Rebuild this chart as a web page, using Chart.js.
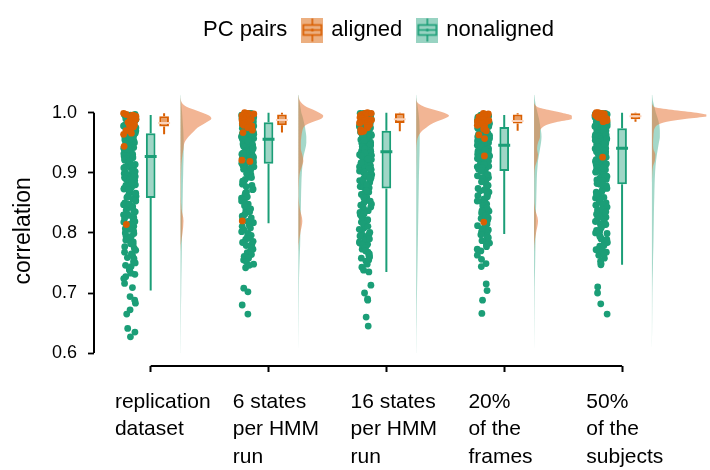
<!DOCTYPE html>
<html>
<head>
<meta charset="utf-8">
<script src="https://cdn.jsdelivr.net/npm/chart.js@4.4.1/dist/chart.umd.min.js"></script>
<style>
  html, body { margin: 0; padding: 0; background: #fff; }
  #wrap { width: 710px; height: 470px; }
</style>
</head>
<body>
<div id="wrap"><canvas id="chart"></canvas></div>
<script>
'use strict';

// categories (multi-line tick labels)
var categories = [
    ['replication', 'dataset'],
    ['6 states', 'per HMM', 'run'],
    ['16 states', 'per HMM', 'run'],
    ['20%', 'of the', 'frames'],
    ['50%', 'of the', 'subjects']
];
var yTicks = [0.6, 0.7, 0.8, 0.9, 1.0];

// box plot stats
var nonLo  = [0.704, 0.816, 0.735, 0.798, 0.747];
var nonQ1  = [0.858, 0.915, 0.874, 0.903, 0.881];
var nonMed = [0.927, 0.956, 0.935, 0.946, 0.941];
var nonQ3  = [0.966, 0.984, 0.970, 0.976, 0.974];
var nonHi  = [0.996, 1.000, 1.000, 0.996, 1.000];
var aliLo  = [0.964, 0.967, 0.969, 0.970, 0.985];
var aliQ1  = [0.977, 0.979, 0.983, 0.982, 0.989];
var aliMed = [0.983, 0.988, 0.989, 0.986, 0.994];
var aliQ3  = [0.994, 0.997, 0.999, 0.997, 0.999];
var aliHi  = [0.999, 1.000, 1.000, 0.999, 1.000];

// nonaligned PC pair correlations, one list per category
var nonaligned0 = [.997,.997,.996,.996,.995,.994,.994,.993,.992,.992,.991,.990,.989,.989,.988,.987,.986,.985,.985,.984,.983,.982,.981,.980,.980,.979,.978,.977,.976,.975,.974,.974,.973,.972,.971,.970,.969,.968,.967,.966,
    .966,.965,.963,.963,.961,.960,.958,.958,.957,.955,.954,.954,.952,.951,.950,.949,.947,.947,.946,.944,.943,.942,.941,.940,.938,.938,.937,.936,.935,.934,.933,.933,.932,.931,.930,.929,.929,.928,.928,.927,
    .926,.924,.923,.921,.920,.918,.917,.915,.914,.912,.910,.909,.907,.906,.904,.902,.901,.899,.897,.896,.894,.892,.890,.889,.887,.885,.883,.882,.880,.878,.876,.874,.873,.871,.869,.867,.865,.863,.861,.859,
    .856,.853,.850,.847,.844,.841,.838,.835,.832,.829,.826,.822,.818,.815,.811,.807,.803,.799,.795,.790,.785,.780,.774,.768,.762,.757,.750,.744,.738,.731,.724,.716,.709,.694,.688,.683,.672,.665,.641,.635,.627,
    .962,.956,.948,.939,.931,.925,.919,.913,.908,.903,.898,.893,.888,.884,.879,.872,.866,.860,.854,.848,.842,.836,.830,.824,.819,.813,.806,.800,.794,.788,.782,.777,.771,.765,.759,.752,.746,.739,.733,.727];
var nonaligned1 = [.999,.999,.998,.998,.998,.997,.997,.997,.996,.996,.995,.995,.995,.994,.994,.993,.993,.993,.992,.992,.991,.991,.991,.990,.990,.989,.989,.989,.988,.988,.987,.987,.986,.986,.986,.985,.985,.984,.984,.984,
    .983,.983,.982,.981,.981,.980,.979,.979,.978,.977,.976,.976,.975,.974,.973,.973,.972,.971,.970,.970,.969,.968,.967,.967,.966,.965,.964,.964,.963,.962,.961,.961,.960,.959,.959,.958,.958,.957,.957,.956,
    .955,.954,.952,.952,.950,.949,.948,.946,.946,.944,.943,.942,.941,.939,.939,.937,.936,.935,.934,.932,.931,.931,.929,.928,.927,.925,.925,.924,.922,.921,.920,.919,.919,.918,.917,.917,.916,.916,.915,.915,
    .913,.910,.907,.904,.901,.897,.893,.889,.885,.881,.877,.872,.868,.863,.858,.853,.848,.843,.838,.833,.828,.822,.817,.811,.805,.799,.794,.789,.784,.779,.773,.767,.761,.755,.748,.742,.708,.702,.680,.665,
    .980,.972,.965,.958,.953,.947,.940,.933,.926,.920,.912,.906,.899,.892,.886,.879,.873,.866,.860,.855,.850,.845,.840,.835,.830,.825,.819,.813,.808,.802,.796,.791,.786,.781,.776,.770,.764,.758,.752,.746];
var nonaligned2 = [.999,.999,.998,.998,.997,.996,.996,.995,.994,.994,.993,.992,.991,.991,.990,.989,.988,.988,.987,.986,.985,.984,.984,.983,.982,.981,.980,.980,.979,.978,.977,.976,.976,.975,.974,.973,.972,.972,.971,.970,
    .969,.968,.966,.966,.964,.963,.962,.960,.960,.958,.957,.956,.955,.953,.953,.951,.950,.949,.948,.946,.946,.944,.943,.942,.941,.940,.939,.939,.938,.937,.937,.936,.936,.935,.935,.935,.936,.938,.941,.944,
    .933,.932,.930,.929,.927,.926,.924,.922,.921,.919,.918,.916,.914,.913,.911,.910,.908,.906,.905,.903,.902,.900,.898,.897,.895,.894,.892,.890,.889,.887,.886,.884,.882,.881,.879,.878,.877,.876,.875,.874,
    .871,.868,.865,.861,.858,.854,.850,.846,.842,.838,.834,.830,.826,.822,.818,.813,.808,.803,.798,.796,.793,.788,.783,.781,.778,.773,.768,.763,.758,.753,.748,.743,.738,.735,.713,.700,.690,.688,.660,.645,
    .975,.968,.961,.954,.947,.940,.933,.928,.923,.917,.912,.907,.901,.896,.891,.885,.880,.870,.864,.859,.853,.848,.843,.837,.832,.827,.821,.816,.811,.806,.801,.795,.790,.785,.780,.775,.770,.765,.760,.755];
var nonaligned3 = [.996,.996,.995,.995,.994,.994,.993,.993,.992,.991,.991,.990,.990,.989,.988,.988,.987,.987,.986,.985,.985,.984,.984,.983,.983,.982,.981,.981,.980,.980,.979,.979,.978,.978,.977,.977,.977,.976,.976,.976,
    .975,.975,.974,.973,.972,.972,.971,.970,.969,.969,.968,.967,.966,.966,.965,.964,.963,.962,.962,.961,.960,.959,.959,.958,.957,.956,.956,.955,.954,.953,.953,.952,.951,.950,.950,.949,.948,.948,.947,.946,
    .945,.944,.943,.942,.941,.940,.938,.937,.936,.935,.934,.933,.932,.931,.929,.928,.927,.926,.925,.924,.923,.922,.920,.919,.918,.917,.916,.915,.914,.913,.912,.911,.910,.909,.908,.907,.906,.905,.904,.903,
    .901,.898,.895,.892,.889,.886,.883,.880,.876,.872,.868,.864,.860,.856,.852,.848,.844,.840,.836,.832,.828,.824,.820,.815,.810,.805,.800,.795,.789,.783,.777,.770,.763,.756,.749,.744,.715,.704,.688,.666,
    .980,.972,.964,.957,.950,.944,.938,.932,.926,.920,.914,.909,.903,.897,.891,.885,.879,.874,.870,.866,.862,.857,.853,.849,.845,.841,.837,.833,.829,.825,.821,.816,.812,.807,.802,.797,.792,.787,.780,.773];
var nonaligned4 = [.999,.999,.998,.998,.997,.997,.996,.995,.995,.994,.993,.993,.992,.991,.990,.990,.989,.988,.987,.987,.986,.985,.984,.984,.983,.982,.981,.981,.980,.979,.979,.978,.977,.977,.976,.976,.975,.975,.974,.974,
    .973,.972,.971,.970,.970,.969,.968,.967,.966,.965,.964,.963,.962,.961,.961,.960,.959,.958,.957,.956,.955,.954,.953,.952,.952,.951,.950,.949,.948,.947,.947,.946,.945,.945,.944,.943,.943,.942,.942,.941,
    .940,.938,.937,.935,.934,.932,.931,.929,.928,.926,.925,.923,.922,.920,.919,.917,.916,.914,.913,.911,.910,.908,.906,.905,.903,.902,.900,.898,.897,.895,.894,.892,.891,.889,.888,.886,.885,.884,.882,.881,
    .878,.875,.872,.868,.865,.861,.858,.854,.850,.846,.842,.838,.834,.830,.826,.822,.818,.815,.813,.808,.803,.800,.798,.793,.790,.788,.783,.778,.773,.770,.768,.763,.758,.753,.749,.747,.710,.700,.682,.665,
    .985,.978,.971,.963,.956,.949,.943,.936,.929,.922,.915,.908,.901,.894,.887,.880,.874,.869,.864,.859,.855,.851,.847,.843,.839,.835,.831,.827,.823,.819,.814,.809,.804,.799,.794,.789,.784,.779,.772,.765];

// aligned PC pair correlations
var aligned0 = [.999,.997,.996,.995,.994,.993,.991,.989,.987,.985,.984,.983,.982,.981,.980,.979,.977,.976,.973,.970,.966,.964,.944,.814];
var aligned1 = [1.0,.999,.998,.997,.997,.996,.995,.993,.991,.990,.989,.988,.987,.986,.985,.983,.981,.979,.978,.975,.971,.967,.921,.919,.820];
var aligned2 = [1.0,.999,.999,.998,.998,.997,.996,.995,.994,.993,.992,.991,.990,.989,.988,.987,.986,.985,.984,.983,.982,.980,.978,.975,.972,.969,.968];
var aligned3 = [.999,.998,.997,.997,.996,.995,.993,.991,.989,.988,.987,.986,.986,.985,.984,.983,.982,.981,.979,.976,.973,.970,.963,.957,.928,.818];
var aligned4 = [1.0,1.0,.999,.999,.998,.998,.997,.996,.995,.994,.994,.993,.992,.991,.990,.989,.988,.987,.986,.985,.926];

// half-violin density (kde) sampled on kdeGrid
var kdeGrid = [1.03,1.02,1.01,1.005,1.0,0.995,0.99,0.985,0.98,0.975,0.97,0.96,0.95,0.94,0.93,0.92,0.91,0.9,0.88,0.86,0.84,0.82,0.8,0.78,0.76,0.74,0.72,0.7,0.68,0.66,0.64,0.62,0.6];
var kdeAligned0 = [0,0.5,6,14,22,29,31,27,22,17,14,8,4,3,2,1.2,0.8,0.6,0.4,0.4,1,3,2,0.3,0,0,0,0,0,0,0,0,0];
var kdeAligned1 = [0,1.5,8,15,21,25,23,15,8,5,4,3,2.5,2.5,4,5,3.5,1.5,0.5,0.3,1.5,4,2,0.3,0,0,0,0,0,0,0,0,0];
var kdeAligned2 = [0,0.3,8,18,28,33,28,20,14,10,6,2,0.7,0.3,0.2,0.2,0.1,0.1,0,0,0,0,0,0,0,0,0,0,0,0,0,0,0];
var kdeAligned3 = [0,0,3,14,28,38,38,24,13,8,6,6,4,3,4,3,1,0.4,0.2,0.2,1,4,2,0.3,0,0,0,0,0,0,0,0,0];
var kdeAligned4 = [0,0,2,20,45,58,35,15,6,3,2,1.5,1.2,1.5,3.5,3,1,0.4,0,0,0,0,0,0,0,0,0,0,0,0,0,0,0];
var kdeNon0 = [0.2,0.5,1,1.3,1.6,1.8,2,2.2,2.4,2.6,2.8,3,3.2,3.2,3.1,3,2.8,2.7,2.4,2.2,2,1.8,1.6,1.4,1.2,1,0.8,0.7,0.5,0.4,0.3,0.2,0.1];
var kdeNon1 = [0.3,1,2,2.5,3,4,4.8,5.5,6.2,6.8,7.2,8,8,7,5.5,4.5,4,3.5,3,2.7,2.5,2.2,2,1.8,1.3,0.9,0.6,0.5,0.4,0.3,0.2,0.1,0];
var kdeNon2 = [0.2,0.7,1.5,1.9,2.3,2.6,2.9,3.1,3.2,3.3,3.4,3.5,3.5,3.4,3.3,3.1,3,2.8,2.6,2.4,2.2,2,1.8,1.6,1.4,1.2,1,0.8,0.6,0.5,0.3,0.2,0.1];
var kdeNon3 = [0.3,1,2,2.8,3.5,4.2,5,5.5,6,6.5,7,7.5,7,6,5,4,3.5,3,2.6,2.3,2,1.8,1.6,1.4,1.2,1,0.7,0.5,0.4,0.3,0.2,0.1,0];
var kdeNon4 = [0.3,1,2.5,3.2,4,5,6,6.8,7.5,7.8,8,8,7,6,5,4.2,3.6,3.2,2.7,2.4,2.1,1.9,1.7,1.5,1.2,1,0.7,0.5,0.4,0.3,0.2,0.1,0];

var nonaligned = [nonaligned0, nonaligned1, nonaligned2, nonaligned3, nonaligned4];
var aligned = [aligned0, aligned1, aligned2, aligned3, aligned4];
var kdeAligned = [kdeAligned0, kdeAligned1, kdeAligned2, kdeAligned3, kdeAligned4];
var kdeNon = [kdeNon0, kdeNon1, kdeNon2, kdeNon3, kdeNon4];

var GREEN = '#1b9e77';
var ORANGE = '#d95f02';

// layout: one category step is ~118.5px, chart area 94..710 x 51..366
var PX = 1 / 118.5;
var X_MIN = -57 * PX;
var X_MAX = 4 + 85 * PX;
var Y_MAX = 1 + (112.7 - 51) / 601;
var Y_MIN = 1 - (366 - 112.7) / 601;
var stripOffset = -21 * PX;
var jitterHalf = 6.3 * PX;
var alignedBoxOffset = 13.5 * PX;
var boxHalf = 7 * PX;
var violinOffset = 30 * PX;
var labelOffset = -36 * PX;

Chart.defaults.font.family = "'Liberation Sans', Arial, sans-serif";
Chart.defaults.color = '#000';

// deterministic horizontal jitter for the strip plot (position only)
function jitter(i, seed) {
    var h = Math.sin((i + 1) * 12.9898 + seed * 78.233) * 43758.5453;
    return ((h - Math.floor(h)) - 0.5) * 2 * jitterHalf;
}

function stripData(lists, seed) {
    var pts = [];
    lists.forEach(function (values, cat) {
        values.forEach(function (v, i) {
            pts.push({x: cat + stripOffset + jitter(i, seed + cat), y: v});
        });
    });
    return pts;
}

function boxData(q1, q3, shift) {
    return q1.map(function (v, i) {
        return {x: i + shift, y: [v, q3[i]]};
    });
}

function whiskerData(lo, q1, q3, hi, shift) {
    var pts = [];
    for (var i = 0; i < lo.length; i++) {
        var x = i + shift;
        pts.push({x: x, y: lo[i]}, {x: x, y: q1[i]}, {x: x, y: null});
        pts.push({x: x, y: q3[i]}, {x: x, y: hi[i]}, {x: x, y: null});
    }
    return pts;
}

function medianData(med, shift) {
    var pts = [];
    for (var i = 0; i < med.length; i++) {
        var x = i + shift;
        pts.push({x: x - boxHalf + PX, y: med[i]}, {x: x + boxHalf - PX, y: med[i]}, {x: x, y: null});
    }
    return pts;
}

function violinDataset(dens, cat, color, order) {
    var base = cat + violinOffset;
    return {
        type: 'line',
        indexAxis: 'y',
        xAxisID: 'x', yAxisID: 'y',
        data: kdeGrid.map(function (y, k) { return {x: base + dens[k] * PX, y: y}; }),
        fill: {value: base},
        backgroundColor: color,
        borderWidth: 0,
        pointRadius: 0,
        cubicInterpolationMode: 'monotone',
        order: order
    };
}

function makeIcon(stroke, fill) {
    var c = document.createElement('canvas');
    c.width = 22;
    c.height = 25;
    var g = c.getContext('2d');
    g.fillStyle = fill;
    g.fillRect(0, 0, 22, 25);
    g.strokeStyle = stroke;
    g.lineWidth = 1.6;
    g.strokeRect(2, 7.5, 18, 10);
    g.beginPath();
    g.moveTo(11, 1); g.lineTo(11, 7.5);
    g.moveTo(11, 17.5); g.lineTo(11, 24);
    g.moveTo(2, 12.5); g.lineTo(20, 12.5);
    g.stroke();
    g.fillStyle = stroke;
    g.beginPath();
    g.arc(11, 12.5, 1.6, 0, Math.PI * 2);
    g.fill();
    return c;
}

var blankIcon = document.createElement('canvas');
blankIcon.width = 1;
blankIcon.height = 1;
var alignedIcon = makeIcon(ORANGE, 'rgba(217,95,2,0.5)');
var nonalignedIcon = makeIcon(GREEN, 'rgba(27,158,119,0.45)');

var datasets = [
    {
        type: 'scatter', label: 'aligned', xAxisID: 'x', yAxisID: 'y',
        data: stripData(aligned, 11),
        backgroundColor: ORANGE, borderWidth: 0,
        pointRadius: 3.4, pointHoverRadius: 3.4, order: 0
    },
    {
        type: 'scatter', label: 'nonaligned', xAxisID: 'x', yAxisID: 'y',
        data: stripData(nonaligned, 0),
        backgroundColor: GREEN, borderWidth: 0,
        pointRadius: 3.4, pointHoverRadius: 3.4, order: 1
    },
    {
        type: 'line', xAxisID: 'x', yAxisID: 'y', data: medianData(aliMed, alignedBoxOffset),
        borderColor: '#fbd3bb', borderWidth: 2, pointRadius: 0, spanGaps: false, order: 2
    },
    {
        type: 'line', xAxisID: 'x', yAxisID: 'y', data: whiskerData(aliLo, aliQ1, aliQ3, aliHi, alignedBoxOffset),
        borderColor: ORANGE, borderWidth: 2, pointRadius: 0, spanGaps: false, order: 3
    },
    {
        type: 'bar', xAxisID: 'x', yAxisID: 'y', data: boxData(aliQ1, aliQ3, alignedBoxOffset),
        backgroundColor: 'rgba(217,95,2,0.6)', borderColor: ORANGE, borderWidth: 2,
        borderSkipped: false, grouped: false, maxBarThickness: 14, order: 4
    },
    {
        type: 'line', xAxisID: 'x', yAxisID: 'y', data: medianData(nonMed, 0),
        borderColor: GREEN, borderWidth: 3, pointRadius: 0, spanGaps: false, order: 5
    },
    {
        type: 'line', xAxisID: 'x', yAxisID: 'y', data: whiskerData(nonLo, nonQ1, nonQ3, nonHi, 0),
        borderColor: GREEN, borderWidth: 2, pointRadius: 0, spanGaps: false, order: 6
    },
    {
        type: 'bar', xAxisID: 'x', yAxisID: 'y', data: boxData(nonQ1, nonQ3, 0),
        backgroundColor: 'rgba(27,158,119,0.42)', borderColor: GREEN, borderWidth: 2,
        borderSkipped: false, grouped: false, maxBarThickness: 14, order: 7
    },
    // axis lines, trimmed to the tick range like the original
    {
        type: 'line', xAxisID: 'x', yAxisID: 'y',
        data: [{x: X_MIN, y: yTicks[0]}, {x: X_MIN, y: yTicks[yTicks.length - 1]}],
        borderColor: '#000', borderWidth: 2, pointRadius: 0, clip: false, order: 10
    },
    {
        type: 'line', xAxisID: 'x', yAxisID: 'y',
        data: [{x: 0, y: Y_MIN}, {x: categories.length - 1, y: Y_MIN}],
        borderColor: '#000', borderWidth: 2, pointRadius: 0, clip: false, order: 10
    }
];

for (var c = 0; c < categories.length; c++) {
    datasets.push(violinDataset(kdeAligned[c], c, 'rgba(232,120,60,0.55)', 8));
    datasets.push(violinDataset(kdeNon[c], c, 'rgba(27,158,119,0.4)', 9));
}

var ctx = document.getElementById('chart');
var myChart = new Chart(ctx, {
    type: 'scatter',
    data: {datasets: datasets},
    options: {
        responsive: true,
        maintainAspectRatio: false,
        animation: false,
        events: [],
        layout: {padding: {left: 20, top: 2, right: 0, bottom: 0}},
        plugins: {
            tooltip: {enabled: false},
            legend: {
                position: 'top',
                onClick: function () {},
                labels: {
                    usePointStyle: true,
                    boxWidth: 16,
                    boxHeight: 22,
                    padding: 17,
                    font: {size: 22},
                    color: '#000',
                    generateLabels: function () {
                        return [
                            {text: 'PC pairs', pointStyle: blankIcon, fillStyle: 'rgba(0,0,0,0)', strokeStyle: 'rgba(0,0,0,0)', lineWidth: 0, hidden: false},
                            {text: 'aligned', pointStyle: alignedIcon, fillStyle: ORANGE, strokeStyle: ORANGE, lineWidth: 0, hidden: false},
                            {text: 'nonaligned', pointStyle: nonalignedIcon, fillStyle: GREEN, strokeStyle: GREEN, lineWidth: 0, hidden: false}
                        ];
                    }
                }
            }
        },
        scales: {
            x: {
                type: 'linear',
                axis: 'x',
                position: 'bottom',
                weight: 0,
                min: X_MIN,
                max: X_MAX,
                offset: false,
                afterBuildTicks: function (scale) {
                    scale.ticks = categories.map(function (c, i) { return {value: i}; });
                },
                afterFit: function (scale) { scale.height = 6; },
                border: {display: false},
                grid: {offset: false, drawOnChartArea: false, drawTicks: true, tickLength: 6, tickWidth: 2, tickColor: '#000'},
                ticks: {display: false}
            },
            xl: {
                type: 'linear',
                axis: 'x',
                position: 'bottom',
                weight: 1,
                min: X_MIN,
                max: X_MAX,
                offset: false,
                afterBuildTicks: function (scale) {
                    scale.ticks = categories.map(function (c, i) { return {value: i + labelOffset}; });
                },
                afterFit: function (scale) { scale.height = 98; },
                border: {display: false},
                grid: {display: false, offset: false, drawTicks: false},
                ticks: {
                    align: 'start',
                    autoSkip: false,
                    maxRotation: 0,
                    padding: 16,
                    color: '#000',
                    font: {size: 21, lineHeight: '27.5px'},
                    callback: function (value, index) { return categories[index]; }
                }
            },
            y: {
                type: 'linear',
                min: Y_MIN,
                max: Y_MAX,
                afterBuildTicks: function (scale) {
                    scale.ticks = yTicks.map(function (v) { return {value: v}; });
                },
                afterFit: function (scale) { scale.width = 74; },
                border: {display: false},
                grid: {drawOnChartArea: false, drawTicks: true, tickLength: 6, tickWidth: 1.8, tickColor: '#000'},
                ticks: {
                    padding: 11,
                    color: '#000',
                    font: {size: 18},
                    callback: function (v) { return v.toFixed(1); }
                },
                title: {
                    display: true,
                    // trailing spaces move the centred text down onto the 0.6-1.0 span
                    text: 'correlation       ',
                    color: '#000',
                    font: {size: 23},
                    padding: {top: -10, bottom: 0}
                }
            }
        }
    }
});
</script>
</body>
</html>
